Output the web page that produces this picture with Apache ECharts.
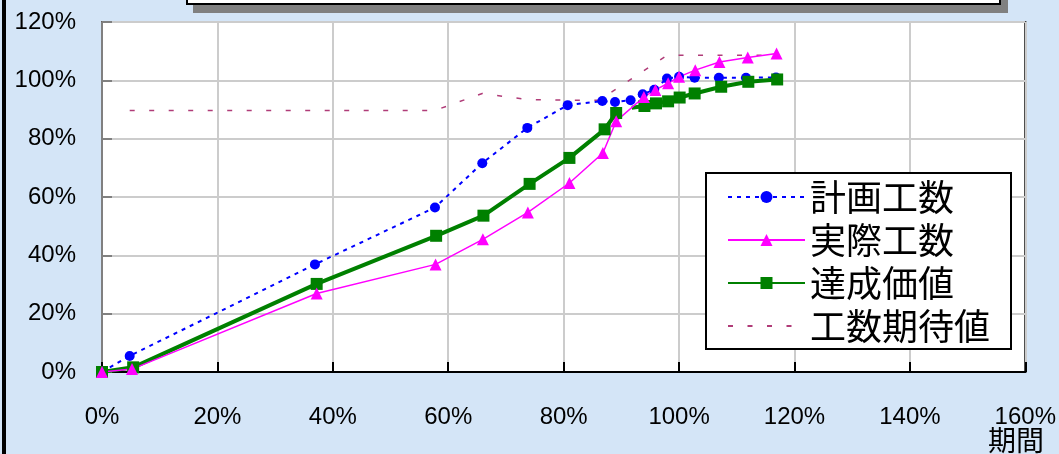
<!DOCTYPE html>
<html>
<head>
<meta charset="utf-8">
<script src="https://cdn.jsdelivr.net/npm/echarts@6/dist/echarts.min.js"></script>
<style>
html, body { margin: 0; padding: 0; background: #d4e5f7; }
#chart { width: 1059px; height: 454px; }
</style>
</head>
<body>
<div id="chart"></div>
<script>
// 期間 (%) / 工数 (%)
var planX = [0, 4.8, 36.9, 57.7, 65.9, 73.7, 80.7, 86.7, 88.9, 91.6, 93.7, 95.7, 97.9, 100, 102.7, 106.9, 111.6, 116.8];
var planY = [0, 5.5, 36.9, 56.4, 71.6, 83.7, 91.5, 92.9, 92.6, 93.2, 95.2, 96.8, 100.6, 101.2, 100.9, 100.9, 100.9, 101];

var actualX = [0, 5.2, 37.2, 57.8, 66.0, 73.8, 81.0, 86.8, 89.1, 93.9, 95.9, 98.1, 100, 102.8, 107, 111.9, 116.9];
var actualY = [0, 1, 26.9, 36.9, 45.5, 54.7, 64.8, 75.1, 86, 94.3, 96.7, 99, 101.2, 103.5, 106.3, 107.8, 109.2];

var earnedX = [0, 5.4, 37.2, 57.9, 66.1, 74.1, 81, 87.1, 89.1, 90.5, 91.8, 94, 96, 98.1, 100.1, 102.7, 107.3, 112, 117];
var earnedY = [0, 1.6, 30.2, 46.7, 53.6, 64.5, 73.4, 83.2, 88.8, null, 90.6, 91.2, 92.1, 92.8, 94.1, 95.5, 97.8, 99.5, 100.3];
var earnedNoMarker = [10];

var expectX = [4.8, 57.7, 65.9, 73.7, 80.7, 86.2, 97.7, 100, 116.8];
var expectY = [89.7, 89.7, 95.5, 93.4, 93.2, 93.2, 108.3, 108.6, 108.6];

var legendNames = ['計画工数', '実際工数', '達成価値', '工数期待値'];

function pairs(xs, ys) {
    return xs.map(function (x, i) { return [x, ys[i]]; });
}

var earnedData = pairs(earnedX, earnedY).map(function (p, i) {
    if (earnedNoMarker.indexOf(i) >= 0) {
        return { value: p, symbol: 'none' };
    }
    return p;
});

var chart = echarts.init(document.getElementById('chart'));

var option = {
    backgroundColor: '#d4e5f7',
    animation: false,
    grid: {
        left: 102,
        top: 22,
        right: 33,
        bottom: 82,
        show: true,
        backgroundColor: '#ffffff',
        borderColor: '#000000',
        borderWidth: 2
    },
    legend: {
        orient: 'vertical',
        left: 706,
        top: 173,
        data: legendNames.map(function (n) {
            // 工数期待値 has no marker, only the dashed line
            return n === '工数期待値' ? { name: n, itemStyle: { opacity: 0 } } : { name: n };
        }),
        itemWidth: 77,
        itemHeight: 15,
        itemGap: 7,
        itemTextGap: 15,
        padding: [6, 21, 5, 21],
        backgroundColor: '#ffffff',
        borderColor: '#000000',
        borderWidth: 2,
        textStyle: {
            color: '#000',
            fontSize: 36,
            lineHeight: 36,
            fontFamily: '"Noto Sans CJK JP"'
        }
    },
    xAxis: {
        type: 'value',
        min: 0,
        max: 160,
        interval: 20,
        axisLine: { lineStyle: { color: '#000', width: 2 } },
        axisTick: { inside: true, length: 10, lineStyle: { color: '#000', width: 2 } },
        axisLabel: {
            formatter: '{value}%',
            margin: 33,
            color: '#000',
            fontSize: 24,
            fontFamily: '"Liberation Sans", Arial'
        },
        splitLine: { lineStyle: { color: '#cccccc', width: 2 } }
    },
    yAxis: {
        type: 'value',
        min: 0,
        max: 120,
        interval: 20,
        axisLine: { show: true, lineStyle: { color: '#808080', width: 2 } },
        axisTick: { show: true, inside: true, length: 10, lineStyle: { color: '#808080', width: 2 } },
        axisLabel: {
            formatter: '{value}%',
            margin: 26,
            color: '#000',
            fontSize: 24,
            fontFamily: '"Liberation Sans", Arial'
        },
        splitLine: { lineStyle: { color: '#cccccc', width: 2 } }
    },
    series: [
        {
            name: '工数期待値',
            type: 'line',
            data: pairs(expectX, expectY),
            symbol: 'none',
            lineStyle: { color: '#b03c78', width: 1.5, type: [5, 14.5] },
            itemStyle: { color: '#b03c78' }
        },
        {
            name: '計画工数',
            type: 'line',
            data: pairs(planX, planY),
            symbol: 'circle',
            symbolSize: 10,
            showAllSymbol: true,
            lineStyle: { color: '#0000ff', width: 2, type: [4, 5] },
            itemStyle: { color: '#0000ff' }
        },
        {
            name: '達成価値',
            type: 'line',
            data: earnedData,
            symbol: 'rect',
            symbolSize: 12,
            showAllSymbol: true,
            connectNulls: false,
            lineStyle: { color: '#008000', width: 4 },
            itemStyle: { color: '#008000' }
        },
        {
            name: '実際工数',
            type: 'line',
            data: pairs(actualX, actualY),
            symbol: 'triangle',
            symbolSize: 12,
            showAllSymbol: true,
            lineStyle: { color: '#ff00ff', width: 1.5 },
            itemStyle: { color: '#ff00ff' }
        }
    ],
    graphic: [
        // left frame line
        { type: 'rect', shape: { x: 2, y: 0, width: 4, height: 454 }, style: { fill: '#000' } },
        // title box (cut off at top)
        { type: 'rect', shape: { x: 193, y: -20, width: 815, height: 33 }, style: { fill: '#808080' } },
        { type: 'rect', shape: { x: 187, y: -20, width: 813, height: 24 }, style: { fill: '#fff', stroke: '#000', lineWidth: 2 } },
        {
            type: 'text',
            x: 1016,
            y: 426,
            style: {
                text: '期間',
                textAlign: 'center',
                fill: '#000',
                font: '28px "Noto Sans CJK JP"'
            }
        }
    ]
};

chart.setOption(option);
</script>
</body>
</html>
